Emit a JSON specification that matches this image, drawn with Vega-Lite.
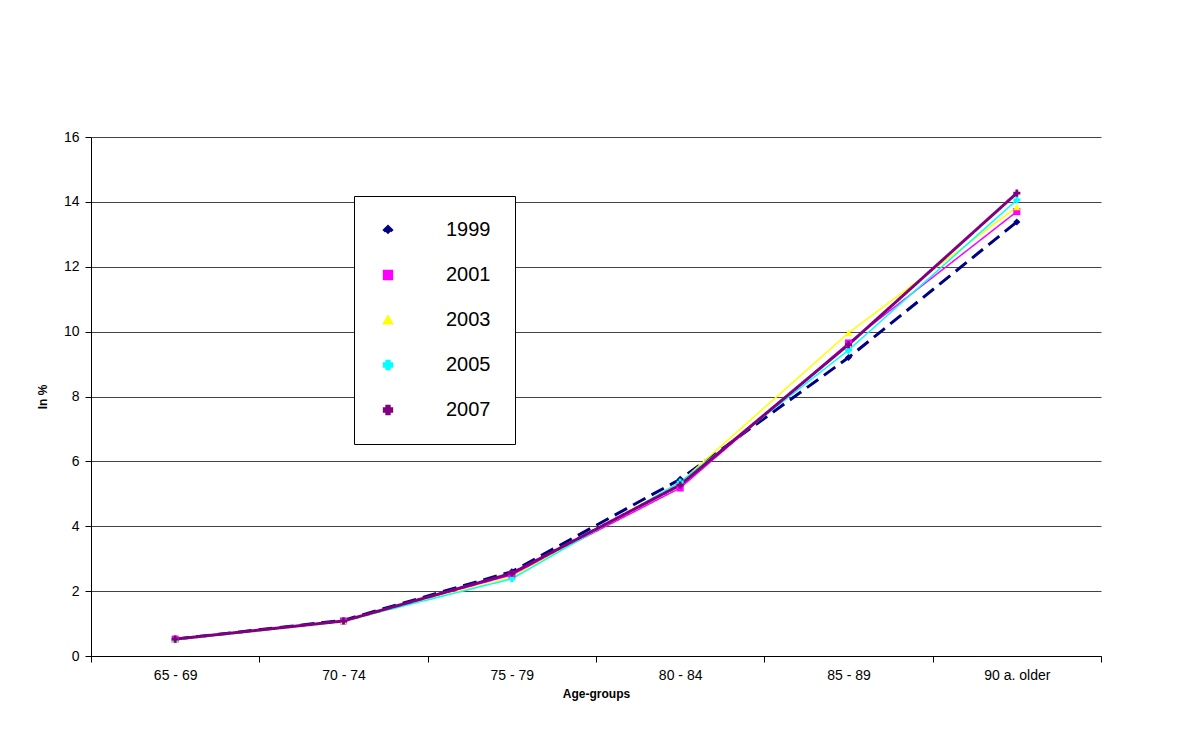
{
"$schema":"https://vega.github.io/schema/vega-lite/v6.json",
"width":1010,"height":519,
"autosize":{"type":"none"},
"padding":{"left":91,"top":137,"right":98,"bottom":82},
"background":"white",
"config":{"font":"Liberation Sans","view":{"stroke":null}},
"data":{"values":[
{"age":"65 - 69","year":"1999","v":0.52},{"age":"70 - 74","year":"1999","v":1.1},{"age":"75 - 79","year":"1999","v":2.6},{"age":"80 - 84","year":"1999","v":5.45},{"age":"85 - 89","year":"1999","v":9.2},{"age":"90 a. older","year":"1999","v":13.38},
{"age":"65 - 69","year":"2001","v":0.52},{"age":"70 - 74","year":"2001","v":1.08},{"age":"75 - 79","year":"2001","v":2.5},{"age":"80 - 84","year":"2001","v":5.18},{"age":"85 - 89","year":"2001","v":9.65},{"age":"90 a. older","year":"2001","v":13.7},
{"age":"65 - 69","year":"2003","v":0.5},{"age":"70 - 74","year":"2003","v":1.07},{"age":"75 - 79","year":"2003","v":2.42},{"age":"80 - 84","year":"2003","v":5.35},{"age":"85 - 89","year":"2003","v":9.96},{"age":"90 a. older","year":"2003","v":13.84},
{"age":"65 - 69","year":"2005","v":0.5},{"age":"70 - 74","year":"2005","v":1.08},{"age":"75 - 79","year":"2005","v":2.38},{"age":"80 - 84","year":"2005","v":5.36},{"age":"85 - 89","year":"2005","v":9.43},{"age":"90 a. older","year":"2005","v":14.06},
{"age":"65 - 69","year":"2007","v":0.52},{"age":"70 - 74","year":"2007","v":1.08},{"age":"75 - 79","year":"2007","v":2.55},{"age":"80 - 84","year":"2007","v":5.27},{"age":"85 - 89","year":"2007","v":9.6},{"age":"90 a. older","year":"2007","v":14.27}
]},
"encoding":{
"x":{"field":"age","type":"ordinal","sort":null,"scale":{"type":"band","paddingInner":0,"paddingOuter":0},"axis":{"title":"Age-groups","titleFontSize":12,"titleFontWeight":"bold","titlePadding":6,"labelAngle":0,"labelFontSize":14,"labelColor":"black","tickBand":"extent","domainColor":"black","tickColor":"black","tickSize":6,"labelPadding":6}},
"y":{"field":"v","type":"quantitative","scale":{"domain":[0,16]},"axis":{"title":"In %","titleFontSize":12,"titleFontWeight":"bold","titlePadding":14,"values":[0,2,4,6,8,10,12,14,16],"labelFontSize":14,"labelColor":"black","grid":true,"gridColor":"#444","domainColor":"black","tickColor":"black","tickSize":6,"labelPadding":6}}
},
"layer":[
{"mark":{"type":"line"},"encoding":{
"color":{"field":"year","type":"nominal","scale":{"domain":["1999","2001","2003","2005","2007"],"range":["#000080","#ff00ff","#ffff00","#00ffff","#800080"]},
"legend":{"title":null,"orient":"none","legendX":263,"legendY":59,"labelFontSize":20,"labelColor":"black","symbolSize":70,"symbolStrokeWidth":2,"rowPadding":25,"padding":24,"strokeColor":"black","fillColor":"white","labelOffset":48}},
"strokeWidth":{"condition":{"test":"datum.year=='1999'||datum.year=='2007'","value":3},"value":1.5},
"strokeDash":{"field":"year","type":"nominal","scale":{"domain":["1999","2001","2003","2005","2007"],"range":[[14,7],[1,0],[1,0],[1,0],[1,0]]},"legend":null}}},
{"mark":{"type":"point","filled":true,"size":50,"opacity":1,"strokeWidth":1.5},"encoding":{
"color":{"field":"year","type":"nominal","legend":null},
"shape":{"field":"year","type":"nominal","scale":{"domain":["1999","2001","2003","2005","2007"],"range":["diamond","square","triangle-up","cross","cross"]},"legend":null}}}
]
}
